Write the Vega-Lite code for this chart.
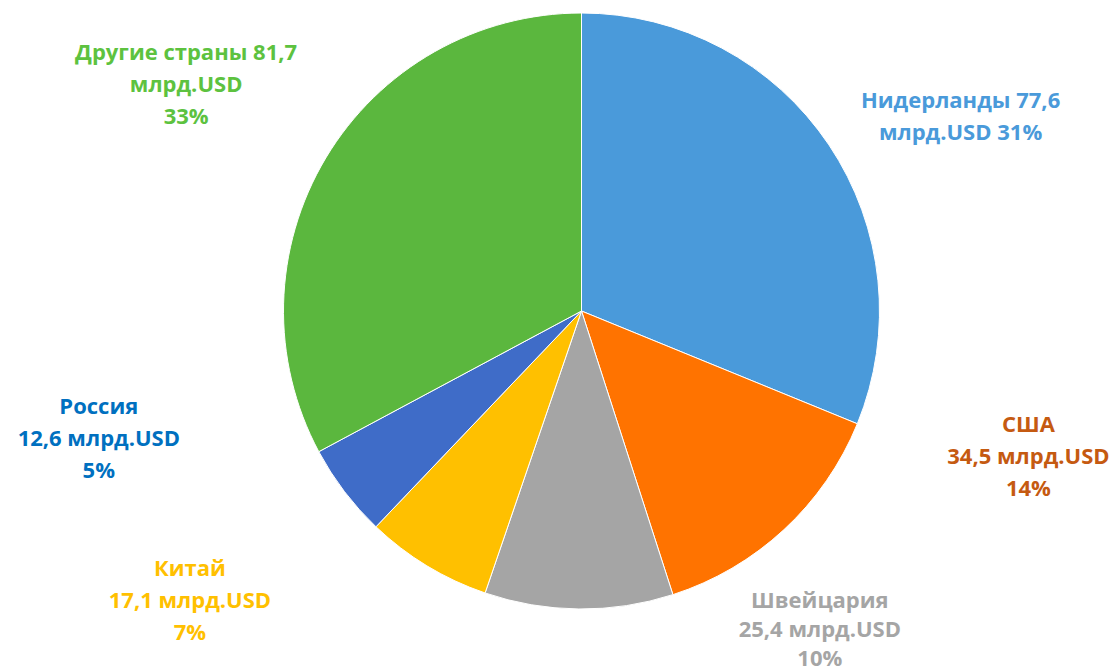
{
  "$schema": "https://vega.github.io/schema/vega-lite/v6.json",
  "autosize": {"type": "none"},
  "width": 1071,
  "height": 622,
  "padding": {"left": 46, "right": 0, "top": 0, "bottom": 46},
  "background": "white",
  "config": {"view": {"stroke": null}, "text": {"font": "Open Sans", "fontWeight": "bold", "fontSize": 22, "lineBreak": "\n", "lineHeight": 32}},
  "data": {"values": [
    {"country": "Нидерланды", "value": 77.6, "ord": 1, "label": "Нидерланды 77,6\nмлрд.USD 31%"},
    {"country": "США", "value": 34.5, "ord": 2, "label": "США\n34,5 млрд.USD\n14%"},
    {"country": "Швейцария", "value": 25.4, "ord": 3, "label": "Швейцария\n25,4 млрд.USD\n10%"},
    {"country": "Китай", "value": 17.1, "ord": 4, "label": "Китай\n17,1 млрд.USD\n7%"},
    {"country": "Россия", "value": 12.6, "ord": 5, "label": "Россия\n12,6 млрд.USD\n5%"},
    {"country": "Другие страны", "value": 81.7, "ord": 6, "label": "Другие страны 81,7\nмлрд.USD\n33%"}
  ]},
  "transform": [
    {"stack": "value", "as": ["v0", "v1"], "groupby": [], "sort": [{"field": "ord", "order": "ascending"}]},
    {"calculate": "(datum.v0 + datum.v1) / 2", "as": "mid"}
  ],
  "layer": [
    {
      "mark": {"type": "arc", "outerRadius": 298, "stroke": "white", "strokeWidth": 1},
      "encoding": {
        "theta": {"field": "v0", "type": "quantitative", "stack": null, "scale": {"domain": [0, 248.9]}},
        "theta2": {"field": "v1"},
        "color": {
          "field": "country", "type": "nominal", "legend": null,
          "scale": {
            "domain": ["Нидерланды", "США", "Швейцария", "Китай", "Россия", "Другие страны"],
            "range": ["#4A9ADA", "#FF7300", "#A5A5A5", "#FFC000", "#3F6CC8", "#5BB73E"]
          }
        }
      }
    },
    {
      "transform": [{"filter": "datum.country === 'Нидерланды'"}],
      "mark": {"type": "text", "radius": 300, "dx": 130, "dy": -43, "color": "#4A9ADA", "baseline": "middle", "align": "center"},
      "encoding": {"theta": {"field": "mid", "type": "quantitative", "stack": null}, "text": {"field": "label"}}
    },
    {
      "transform": [{"filter": "datum.country === 'США'"}],
      "mark": {"type": "text", "radius": 300, "dx": 243, "dy": -106, "color": "#C55A11", "baseline": "middle", "align": "center"},
      "encoding": {"theta": {"field": "mid", "type": "quantitative", "stack": null}, "text": {"field": "label"}}
    },
    {
      "transform": [{"filter": "datum.country === 'Швейцария'"}],
      "mark": {"type": "text", "radius": 300, "dx": 241, "dy": -10, "color": "#A5A5A5", "baseline": "middle", "align": "center", "lineHeight": 29},
      "encoding": {"theta": {"field": "mid", "type": "quantitative", "stack": null}, "text": {"field": "label"}}
    },
    {
      "transform": [{"filter": "datum.country === 'Китай'"}],
      "mark": {"type": "text", "radius": 300, "dx": -236, "dy": 2, "color": "#FFC000", "baseline": "middle", "align": "center"},
      "encoding": {"theta": {"field": "mid", "type": "quantitative", "stack": null}, "text": {"field": "label"}}
    },
    {
      "transform": [{"filter": "datum.country === 'Россия'"}],
      "mark": {"type": "text", "radius": 300, "dx": -244, "dy": -86, "color": "#0070C0", "baseline": "middle", "align": "center"},
      "encoding": {"theta": {"field": "mid", "type": "quantitative", "stack": null}, "text": {"field": "label"}}
    },
    {
      "transform": [{"filter": "datum.country === 'Другие страны'"}],
      "mark": {"type": "text", "radius": 300, "dx": -138, "dy": -104, "color": "#5DC23F", "baseline": "middle", "align": "center"},
      "encoding": {"theta": {"field": "mid", "type": "quantitative", "stack": null}, "text": {"field": "label"}}
    }
  ]
}
